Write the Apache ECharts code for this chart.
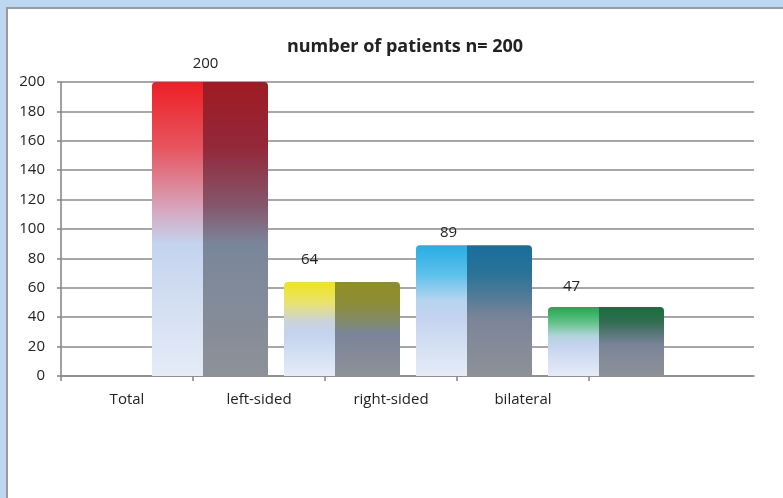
<!DOCTYPE html>
<html>
<head>
<meta charset="utf-8">
<script src="https://cdn.jsdelivr.net/npm/echarts@6/dist/echarts.min.js"></script>
<style>
  html, body { margin: 0; padding: 0; }
  body { width: 783px; height: 498px; background: #bdd7ee; position: relative; overflow: hidden; }
  #panel { position: absolute; left: 6px; top: 7px; width: 777px; height: 491px; background: #ffffff;
           border-left: 2px solid #9a9a9a; border-top: 2px solid #9a9a9a; box-sizing: border-box; }
  #chart { position: absolute; left: 0; top: 0; width: 783px; height: 498px; }
</style>
</head>
<body>
<div id="panel"></div>
<div id="chart"></div>
<script>
// ---- data ----
const categories = ['Total', 'left-sided', 'right-sided', 'bilateral'];
const patients = [200, 64, 89, 47];
const yTicks = [0, 20, 40, 60, 80, 100, 120, 140, 160, 180, 200];
const titleText = 'number of patients n= 200';

// ---- styles (not data) ----
const frontPalette = [
  ['#ee1f25', '#e6545e', '#d7a2b8', '#c4d3ee', '#e5ecf7'],
  ['#efe51a', '#eae272', '#c9d3dc', '#c4d3ee', '#e5ecf7'],
  ['#27ade4', '#5cc0ea', '#b6d4ee', '#c4d3ee', '#e5ecf7'],
  ['#20a84c', '#62c088', '#b3d3dc', '#c4d3ee', '#e5ecf7']
];
const sidePalette = [
  ['#9f1b21', '#93283a', '#85566b', '#79869a', '#8e9198'],
  ['#8f8f28', '#8c8c36', '#838a6e', '#7a8499', '#8e9198'],
  ['#196e9b', '#2a7398', '#587c98', '#7a8499', '#8e9198'],
  ['#166f3c', '#336d52', '#5f7a80', '#7a8499', '#8e9198']
];
const labelNudge = [[28, 0], [0, -4], [7, 6], [-2, -2]];

function grad(stops) {
  return new echarts.graphic.LinearGradient(0, 0, 0, 1, [
    { offset: 0, color: stops[0] },
    { offset: 0.22, color: stops[1] },
    { offset: 0.42, color: stops[2] },
    { offset: 0.55, color: stops[3] },
    { offset: 1, color: stops[4] }
  ]);
}

const FONT = '"Open Sans", "Noto Sans", sans-serif';
const chart = echarts.init(document.getElementById('chart'), null, { renderer: 'canvas' });

const frontData = patients.map((v, i) => ({
  value: v,
  itemStyle: { color: grad(frontPalette[i]), borderRadius: [4, 0, 0, 0] },
  label: { offset: labelNudge[i] }
}));
const sideData = patients.map((v, i) => ({
  value: v,
  itemStyle: { color: grad(sidePalette[i]), borderRadius: [0, 4, 0, 0] }
}));

chart.setOption({
  animation: false,
  textStyle: { fontFamily: FONT },
  title: {
    text: titleText,
    left: 400, top: 33, textAlign: 'center',
    textStyle: { fontFamily: FONT, fontSize: 18, fontWeight: 'bold', color: '#222' }
  },
  grid: [
    { left: 61, top: 82, width: 693, height: 294 },
    { left: 61, top: 82, width: 528, height: 294 },
    { left: 144, top: 82, width: 528, height: 294 }
  ],
  xAxis: [
    { gridIndex: 0, type: 'value', min: 0, max: 1,
      axisLine: { show: true, lineStyle: { color: '#8a8a8a', width: 1.6 } },
      axisTick: { show: false }, axisLabel: { show: false }, splitLine: { show: false } },
    { gridIndex: 1, type: 'category', data: categories, boundaryGap: true,
      axisLine: { show: false },
      axisTick: { show: true, length: 5, lineStyle: { color: '#8a8a8a', width: 1.6 } },
      axisLabel: { margin: 16, fontSize: 15, color: '#222', fontFamily: FONT } },
    { gridIndex: 2, type: 'category', data: categories, show: false }
  ],
  yAxis: [
    { gridIndex: 0, type: 'value', min: yTicks[0], max: yTicks[yTicks.length - 1], interval: yTicks[1] - yTicks[0],
      axisLine: { show: true, lineStyle: { color: '#8a8a8a', width: 1.6 } },
      axisTick: { show: true, length: 4, lineStyle: { color: '#8a8a8a', width: 1.6 } },
      axisLabel: { margin: 16, fontSize: 15, color: '#222', fontFamily: FONT },
      splitLine: { show: true, lineStyle: { color: '#8a8a8a', width: 1.6 } } },
    { gridIndex: 1, type: 'value', min: 0, max: 200, show: false },
    { gridIndex: 2, type: 'value', min: 0, max: 200, show: false }
  ],
  series: [
    { type: 'bar', xAxisIndex: 2, yAxisIndex: 2, data: frontData, barWidth: 51, barGap: '0%',
      label: { show: true, position: 'top', distance: 11, fontSize: 15, color: '#222', fontFamily: FONT },
      z: 3 },
    { type: 'bar', xAxisIndex: 2, yAxisIndex: 2, data: sideData, barWidth: 65, barGap: '0%', z: 2 }
  ]
});
</script>
</body>
</html>
